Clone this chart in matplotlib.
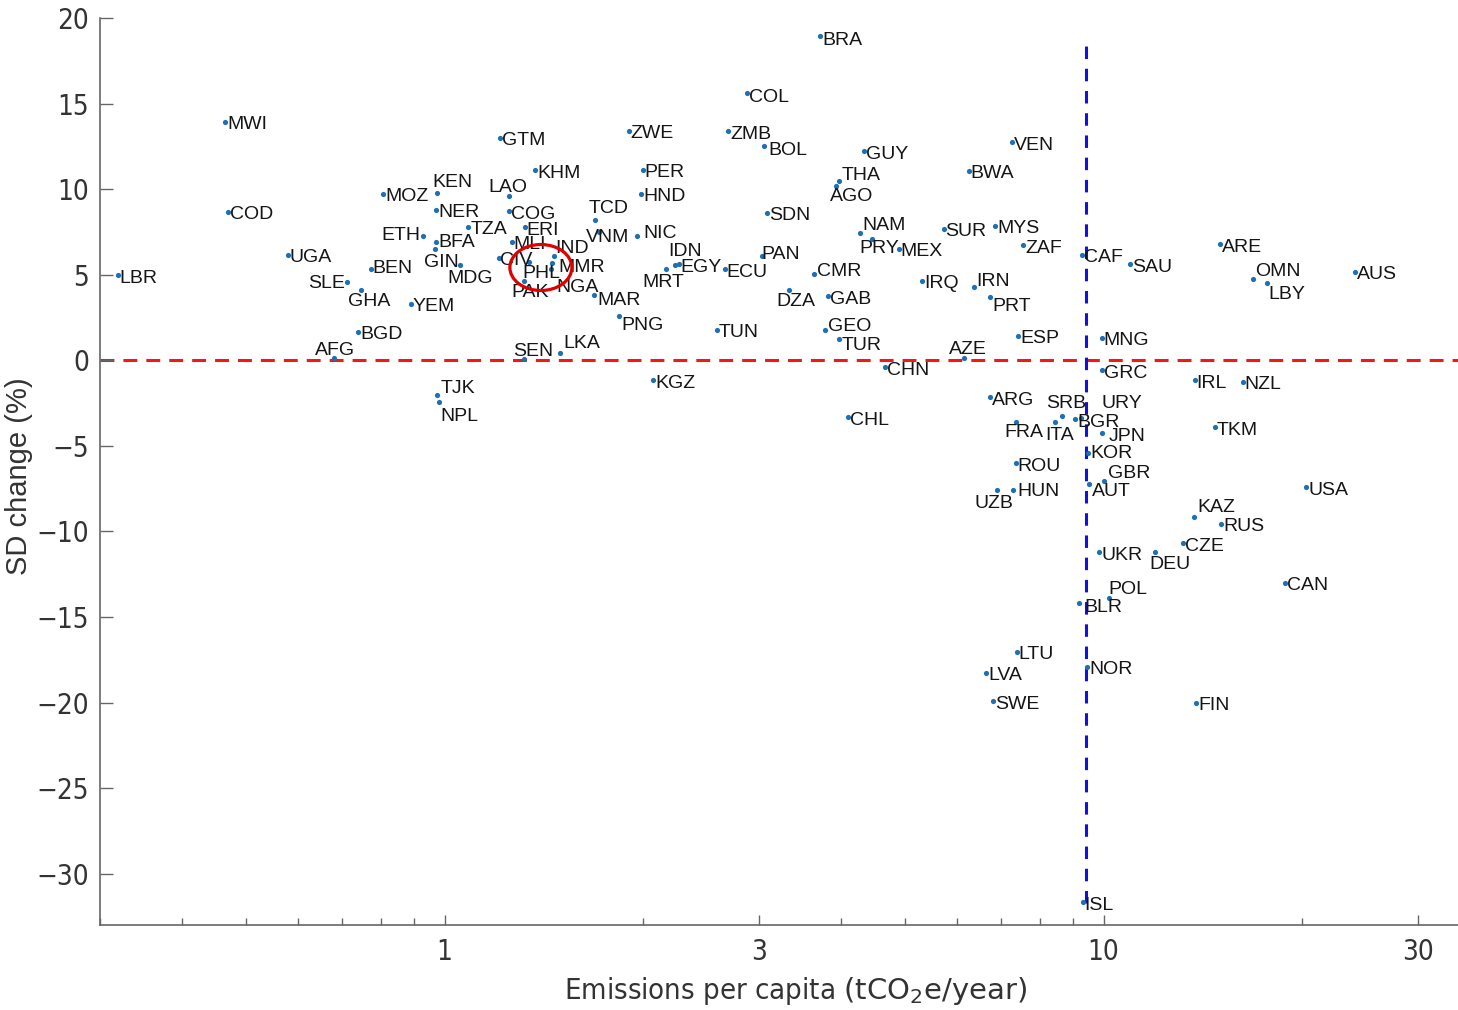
import numpy as np
import matplotlib
matplotlib.use("Agg")
import matplotlib.pyplot as plt
import matplotlib.transforms as mtransforms
from matplotlib.patches import Ellipse
from matplotlib.ticker import FixedLocator, LogLocator, NullFormatter

plt.rcParams['font.family'] = ['Liberation Sans', 'DejaVu Sans']
plt.rcParams['mathtext.fontset'] = 'dejavusans'
plt.rcParams['lines.scale_dashes'] = False

# country codes, emissions per capita (tCO2e/year), SD change (%)
codes = ['LBR', 'MWI', 'COD', 'UGA', 'SLE', 'AFG', 'BGD', 'GHA', 'BEN', 'MOZ',
         'YEM', 'ETH', 'BFA', 'GIN', 'KEN', 'NER', 'TJK', 'NPL', 'MDG', 'TZA',
         'CIV', 'GTM', 'LAO', 'COG', 'MLI', 'PAK', 'SEN', 'ERI', 'PHL', 'KHM',
         'MMR', 'NGA', 'IND', 'LKA', 'MAR', 'TCD', 'VNM', 'PNG', 'ZWE', 'NIC',
         'HND', 'PER', 'KGZ', 'MRT', 'IDN', 'EGY', 'TUN', 'ECU', 'ZMB', 'COL',
         'PAN', 'BOL', 'SDN', 'DZA', 'CMR', 'BRA', 'GEO', 'GAB', 'AGO', 'THA',
         'TUR', 'CHL', 'CHN', 'NAM', 'GUY', 'PRY', 'MEX', 'IRQ', 'SUR', 'AZE',
         'BWA', 'IRN', 'UZB', 'MYS', 'ARG', 'LVA', 'PRT', 'SWE', 'VEN', 'HUN',
         'ROU', 'FRA', 'LTU', 'ESP', 'ZAF', 'ITA', 'SRB', 'BGR', 'BLR', 'URY',
         'CAF', 'ISL', 'NOR', 'KOR', 'AUT', 'UKR', 'GRC', 'MNG', 'JPN', 'GBR',
         'POL', 'SAU', 'DEU', 'CZE', 'KAZ', 'IRL', 'FIN', 'TKM', 'ARE', 'RUS',
         'NZL', 'OMN', 'LBY', 'CAN', 'USA', 'AUS']
emissions = [0.319, 0.465, 0.469, 0.578, 0.712, 0.680, 0.739, 0.746, 0.774, 0.807,
             0.889, 0.929, 0.971, 0.967, 0.975, 0.971, 0.974, 0.980, 1.056, 1.087,
             1.210, 1.215, 1.254, 1.254, 1.264, 1.318, 1.318, 1.323, 1.345, 1.373,
             1.455, 1.448, 1.464, 1.498, 1.683, 1.693, 1.713, 1.837, 1.902, 1.958,
             1.989, 1.998, 2.072, 2.170, 2.234, 2.265, 2.590, 2.660, 2.691, 2.875,
             3.030, 3.056, 3.084, 3.327, 3.630, 3.716, 3.782, 3.816, 3.924, 3.961,
             3.961, 4.098, 4.666, 4.274, 4.323, 4.450, 4.885, 5.301, 5.717, 6.131,
             6.238, 6.348, 6.888, 6.850, 6.731, 6.637, 6.731, 6.792, 7.259, 7.284,
             7.360, 7.360, 7.379, 7.413, 7.544, 8.426, 8.644, 9.058, 9.186, 9.250,
             9.270, 9.292, 9.434, 9.467, 9.489, 9.851, 9.931, 9.940, 9.940, 10.03,
             10.18, 10.98, 11.98, 13.18, 13.73, 13.75, 13.81, 14.74, 15.03, 15.09,
             16.25, 16.87, 17.68, 18.87, 20.32, 24.07]
sd_change = [4.97, 13.95, 8.67, 6.18, 4.57, 0.16, 1.67, 4.08, 5.35, 9.74,
             3.31, 7.25, 6.90, 6.53, 9.78, 8.80, -2.04, -2.45, 5.56, 7.80,
             5.95, 12.99, 9.58, 8.71, 6.93, 4.66, 0.06, 7.77, 5.73, 11.10,
             5.66, 5.31, 6.09, 0.41, 3.79, 8.22, 7.52, 2.58, 13.41, 7.25,
             9.74, 11.14, -1.17, 5.31, 5.54, 5.60, 1.77, 5.31, 13.37, 15.64,
             6.08, 12.54, 8.61, 4.10, 5.07, 18.95, 1.77, 3.75, 10.16, 10.45,
             1.27, -3.32, -0.41, 7.45, 12.20, 7.06, 6.51, 4.66, 7.68, 0.16,
             11.08, 4.27, -7.56, 7.87, -2.17, -18.25, 3.69, -19.92, 12.73, -7.56,
             -6.01, -3.60, -17.03, 1.42, 6.71, -3.63, -3.25, -3.44, -14.17, -3.40,
             6.18, -31.66, -17.92, -5.42, -7.23, -11.21, -0.58, 1.32, -4.26, -7.04,
             -13.88, 5.60, -11.21, -10.69, -9.18, -1.18, -20.0, -3.92, 6.79, -9.56,
             -1.25, 4.75, 4.54, -13.00, -7.42, 5.18]

threshold = 9.4          # vertical reference (emissions)
thr_span = (-31.7, 18.4)
highlight = (1.40, 5.42)  # circled point (PHL)

xticks = [1, 3, 10, 30]
yticks = [20, 15, 10, 5, 0, -5, -10, -15, -20, -25, -30]

# label placement (pixels, relative to the dot); default is just right of the dot
default_off = (2, -3)
label_off = {
    'SLE': (-2, -1, 'right'), 'ETH': (-3, 1, 'right'),
    'AFG': (-19, 7), 'GHA': (-13, -11), 'GIN': (-11, -14), 'KEN': (-5, 10),
    'TJK': (4, 7), 'NPL': (2, -14), 'MDG': (-13, -13), 'LAO': (-21, 9),
    'PAK': (-12, -12), 'SEN': (-10, 8), 'PHL': (-7, -11), 'MMR': (6, -4),
    'NGA': (6, -18), 'IND': (2, 8), 'LKA': (3, 10), 'MAR': (4, -5),
    'TCD': (-7, 11), 'VNM': (-13, -6), 'PNG': (3, -9), 'NIC': (6, 3),
    'MRT': (-24, -13), 'IDN': (-6, 14), 'PAN': (0, 2), 'BOL': (4, -5),
    'DZA': (-12, -11), 'CMR': (3, 2), 'GEO': (3, 3), 'AGO': (-6, -10),
    'THA': (3, 6), 'TUR': (3, -7), 'NAM': (2, 7), 'PRY': (-12, -9),
    'AZE': (-15, 8), 'IRN': (3, 6), 'UZB': (-22, -14), 'PRT': (2, -9),
    'FRA': (-11, -11), 'ITA': (-9, -13), 'SRB': (-16, 12), 'URY': (20, 15),
    'AUT': (3, -8), 'GBR': (4, 7), 'POL': (0, 8), 'DEU': (-6, -12),
    'KAZ': (3, 10), 'OMN': (2, 7), 'LBY': (2, -12), 'BLR': (5, -5),
    'JPN': (7, -3), 'COL': (2, -4.5), 'BRA': (2, -4.5), 'BEN': (1, 0),
    'BFA': (2, 0), 'KOR': (2, 0), 'HUN': (4, -2), 'CIV': (1, -2),
}

fig = plt.figure(figsize=(14.58, 10.10), dpi=100)
ax = fig.add_axes([100 / 1458, 85 / 1010, 1358 / 1458, 907 / 1010])
ax.set_xscale('log')

ax.axhline(0, color='#F01818', ls=(0, (10, 6.5)), lw=2.2, zorder=1)
ax.plot([threshold, threshold], thr_span, color='#1010E0', ls=(0, (9, 7)), lw=2.2, zorder=1)

ax.scatter(emissions, sd_change, s=14, color='#1f6fb5', zorder=3, linewidths=0)

for code, xv, yv in zip(codes, emissions, sd_change):
    off = label_off.get(code, default_off)
    ha = off[2] if len(off) > 2 else 'left'
    ax.annotate(code, (xv, yv), xytext=(off[0], off[1]), textcoords='offset pixels',
                ha=ha, va='center', fontsize=14, color='#151515', zorder=4)

# red circle around the highlighted point
circ_tr = mtransforms.IdentityTransform() + mtransforms.ScaledTranslation(
    highlight[0], highlight[1], ax.transData)
ax.add_patch(Ellipse((0, 0), 62, 46, transform=circ_tr, fill=False,
                     edgecolor='#E00000', lw=2.3, zorder=5))

ax.set_xlim(0.3, 34.5)
ax.set_ylim(-33, 20)
ax.xaxis.set_major_locator(FixedLocator(xticks))
ax.set_xticklabels([str(t) for t in xticks])
ax.xaxis.set_minor_locator(LogLocator(base=10, subs=np.arange(2, 10)))
ax.xaxis.set_minor_formatter(NullFormatter())
ax.set_yticks(yticks)
ax.set_yticklabels([str(t).replace('-', '\u2212') for t in yticks])

for lab in ax.get_xticklabels() + ax.get_yticklabels():
    lab.set_family('DejaVu Sans')
    lab.set_stretch('condensed')
    lab.set_fontsize(20)
    lab.set_color('#333333')

ax.tick_params(axis='y', which='major', direction='in', length=9.5, width=1, color='#666666', pad=8)
ax.tick_params(axis='x', which='major', direction='in', length=7, width=1, color='#666666', pad=9)
ax.tick_params(axis='x', which='minor', direction='in', length=5, width=1, color='#666666')

for s in ['top', 'right']:
    ax.spines[s].set_visible(False)
for s in ['left', 'bottom']:
    ax.spines[s].set_color('#666666')
    ax.spines[s].set_linewidth(1.2)

ax.set_xlabel(r'Emissions per capita $(\mathrm{tCO_2e/year})$', fontsize=21,
              family='DejaVu Sans', stretch='condensed', color='#333333')
ax.xaxis.set_label_coords(0.5125, -0.055)
ax.set_ylabel('SD change (%)', fontsize=21, color='#333333')
ax.yaxis.set_label_coords(-0.049, 0.495)

fig.savefig('out.png', dpi=100)
